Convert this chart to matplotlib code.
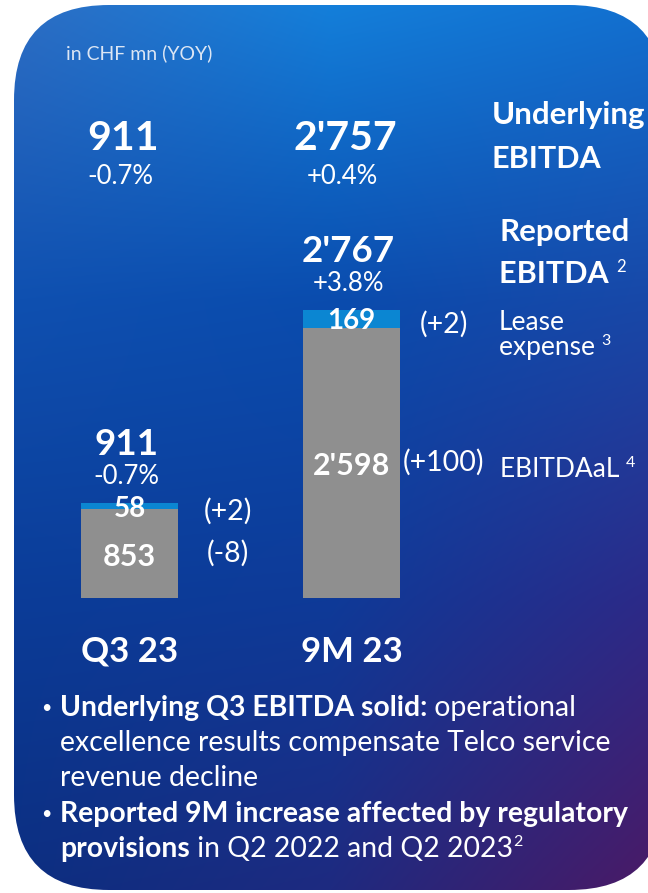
import numpy as np
import matplotlib
matplotlib.use("Agg")
import matplotlib.pyplot as plt
from matplotlib.patches import FancyBboxPatch
from matplotlib.transforms import offset_copy, blended_transform_factory

plt.rcParams['font.family'] = ['Lato', 'DejaVu Sans']

# ---------------- data ----------------
periods = ["Q3 23", "9M 23"]
ebitdaal = [853, 2598]
lease_expense = [58, 169]
ebitdaal_change = ["(-8)", "(+100)"]
lease_change = ["(+2)", "(+2)"]
reported_change = ["-0.7%", "+3.8%"]
underlying_ebitda = [911, 2757]
underlying_change = ["-0.7%", "+0.4%"]


def fmt(v):
    return f"{v:,}".replace(",", "'")


W, H = 648, 893
fig = plt.figure(figsize=(W / 100, H / 100), dpi=100)
fig.patch.set_facecolor('white')

# background axes in pixel coordinates
bg = fig.add_axes([0, 0, 1, 1])
bg.set_xlim(0, W)
bg.set_ylim(H, 0)
bg.axis('off')


def hex2rgb(h):
    h = h.lstrip('#')
    return [int(h[i:i + 2], 16) / 255 for i in (0, 2, 4)]


cx = [15, 330, 648]
cy = [5, 300, 600, 890]
grid = np.array([
    [hex2rgb('#2d6ec4'), hex2rgb('#147fda'), hex2rgb('#1270d0')],
    [hex2rgb('#0f50b0'), hex2rgb('#0a4cae'), hex2rgb('#1848a8')],
    [hex2rgb('#0b3c98'), hex2rgb('#0e3a98'), hex2rgb('#2c2a88')],
    [hex2rgb('#0c2e80'), hex2rgb('#1e2a80'), hex2rgb('#4a1a66')],
])
xs = np.arange(W) + 0.5
ys = np.arange(H) + 0.5
rows = np.stack([np.stack([np.interp(xs, cx, grid[r, :, c]) for c in range(3)], -1)
                 for r in range(len(cy))])
cya = np.array(cy, float)
idx = np.clip(np.searchsorted(cya, ys) - 1, 0, len(cy) - 2)
t = np.clip((ys - cya[idx]) / (cya[idx + 1] - cya[idx]), 0, 1)
img = rows[idx] * (1 - t)[:, None, None] + rows[idx + 1] * t[:, None, None]

im = bg.imshow(img, extent=(0, W, H, 0), aspect='auto', zorder=0, interpolation='bilinear')
box = FancyBboxPatch((14, 5), 650, 885, boxstyle="round,pad=0,rounding_size=95",
                     transform=bg.transData, facecolor='none', edgecolor='none')
bg.add_patch(box)
im.set_clip_path(box)
bg.set_xlim(0, W)
bg.set_ylim(H, 0)

# bar axes
base_px, top_px = 598, 5
px_per_unit = 0.1041
ax = fig.add_axes([0, (H - base_px) / H, 1, (base_px - top_px) / H])
ax.set_xlim(-129.5 / 222, (W - 129.5) / 222)
ax.set_ylim(0, (base_px - top_px) / px_per_unit)
ax.axis('off')
ax.patch.set_alpha(0)

x = np.arange(len(periods))
bw = 97 / 222
gray = '#8f8f8f'
blue = '#0b86d2'
ax.bar(x, ebitdaal, bw, color=gray, zorder=2)
ax.bar(x, lease_expense, bw, bottom=ebitdaal, color=blue, zorder=2)

WHITE = 'white'


def off(dx_px=0, dy_px=0, tr=None):
    return offset_copy(tr if tr is not None else ax.transData, fig=fig, x=dx_px, y=dy_px, units='dots')


tr_top = blended_transform_factory(ax.transData, bg.transData)
change_dx = [98, 92]
for i in range(len(periods)):
    e, l = ebitdaal[i], lease_expense[i]
    total = e + l
    # in-bar labels
    ax.text(i, e / 2, fmt(e), ha='center', va='baseline', fontsize=22, fontweight='bold',
            color=WHITE, transform=off(0, -12.5), zorder=3)
    ax.text(i, e + l / 2, fmt(l), ha='center', va='baseline', fontsize=20, fontweight='bold',
            color=WHITE, transform=off(0, -10.5), zorder=3)
    # change labels
    ax.text(i, e / 2, ebitdaal_change[i], ha='center', va='baseline', fontsize=20.5,
            color=WHITE, transform=off(change_dx[i], -8), zorder=3)
    ax.text(i, e + l / 2, lease_change[i], ha='center', va='baseline', fontsize=20.5,
            color=WHITE, transform=off(change_dx[i], -14), zorder=3)
    # reported totals above bars
    ax.text(i, total, fmt(total), ha='center', va='baseline', fontsize=26.5, fontweight='bold',
            color=WHITE, transform=off(-3, 48), zorder=3)
    ax.text(i, total, reported_change[i], ha='center', va='baseline', fontsize=18.5,
            color=WHITE, transform=off(-3, 19), zorder=3)
    # underlying row (fixed height)
    bg.text(i, 150, fmt(underlying_ebitda[i]), ha='center', va='baseline', fontsize=29.5,
            fontweight='bold', color=WHITE, transform=off(-6, 0, tr_top))
    bg.text(i, 184, underlying_change[i], ha='center', va='baseline', fontsize=18.5,
            color=WHITE, transform=off(-9, 0, tr_top))
    # category labels
    bg.text(i, 662, periods[i], ha='center', va='baseline', fontsize=25,
            fontweight='bold', color=WHITE, transform=tr_top)

renderer = fig.canvas.get_renderer()


def pieces(x0, y0, parts):
    """parts: list of (text, weight, size, raise_px)"""
    xx = x0
    for txt, weight, size, rise in parts:
        tt = bg.text(xx, y0 - rise, txt, fontsize=size, fontweight=weight, color=WHITE,
                     ha='left', va='baseline')
        bb = tt.get_window_extent(renderer)
        xx += bb.width
    return xx


bg.text(66, 59, "in CHF mn (YOY)", fontsize=14, color='#dce6f4', ha='left', va='baseline')

# right-side legend labels
pieces(492, 124, [("Underlying", 'bold', 22.5, 0)])
pieces(492, 168, [("EBITDA", 'bold', 22, 0)])
pieces(499, 241, [("Reported", 'bold', 22.5, 0)])
pieces(499, 283, [("EBITDA ", 'bold', 22, 0), ("2", 'normal', 12, 11)])
pieces(499, 330, [("Lease", 'normal', 19, 0)])
pieces(499, 355, [("expense ", 'normal', 19, 0), ("3", 'normal', 11.5, 10)])
pieces(500, 477, [("EBITDAaL ", 'normal', 19, 0), ("4", 'normal', 11.5, 10)])

# bullets
bs = 20.4
bg.text(41, 713, "•", fontsize=13, color=WHITE, ha='left', va='baseline')
pieces(60, 716, [("Underlying Q3 EBITDA solid:", 'bold', bs, 0), (" operational", 'normal', bs, 0)])
pieces(60, 751, [("excellence results compensate Telco service", 'normal', bs, 0)])
pieces(60, 786, [("revenue decline", 'normal', bs, 0)])
bg.text(41, 819, "•", fontsize=13, color=WHITE, ha='left', va='baseline')
pieces(60, 822, [("Reported 9M increase affected by regulatory", 'bold', bs, 0)])
pieces(60, 857, [("provisions", 'bold', bs, 0), (" in Q2 2022 and Q2 2023", 'normal', bs, 0),
                 ("2", 'normal', 11.5, 11)])

fig.savefig("out.png", dpi=100, facecolor='white')
